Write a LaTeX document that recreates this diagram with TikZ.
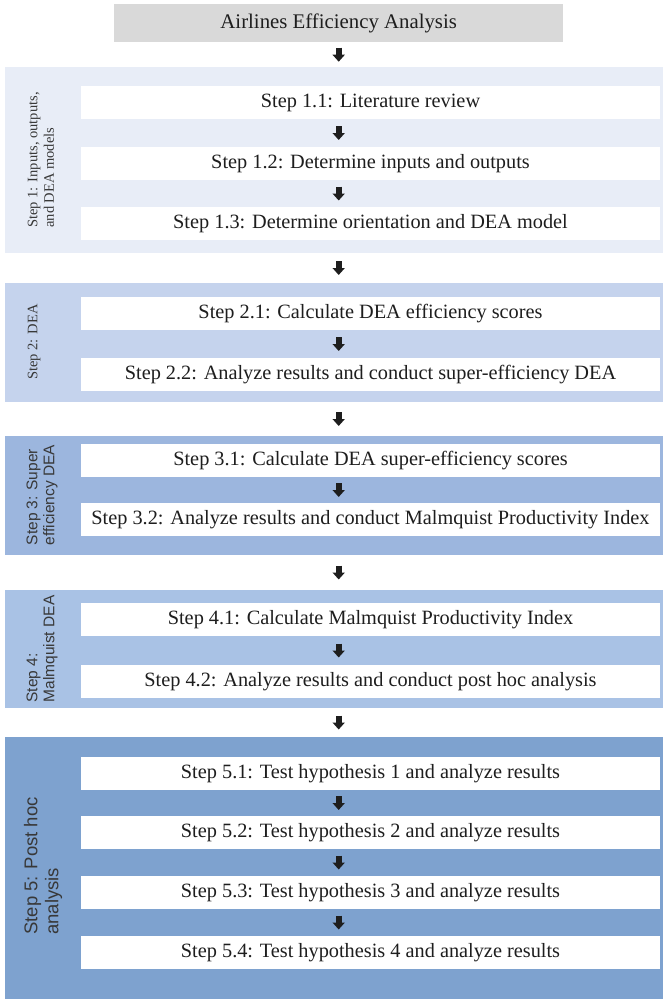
\documentclass[tikz,border=0pt]{standalone}
\usepackage{fontspec}
\setmainfont{Liberation Serif}
\setsansfont{Liberation Sans}
\usetikzlibrary{calc,arrows.meta}
\definecolor{titlegray}{HTML}{D9D9D9}
\definecolor{pone}{HTML}{E8EDF7}
\definecolor{ptwo}{HTML}{C5D3ED}
\definecolor{pthree}{HTML}{9CB6DE}
\definecolor{pfour}{HTML}{A9C2E5}
\definecolor{pfive}{HTML}{7EA2CF}
\definecolor{inktext}{HTML}{1E1E1E}
\newcommand\flowarr[2]{\draw[flowarrow] ($(#1.south -| title.center)!0.5!(#2.north -| title.center)$) ++(0,7pt) -- ++(0,-14pt);}
\begin{document}
\begin{tikzpicture}[x=1pt,y=-1pt,
 panel/.style={anchor=north west, inner sep=0pt, outer sep=0pt, minimum width=658pt},
 stepbox/.style={anchor=north west, fill=white, inner sep=0pt, outer sep=0pt, minimum width=579pt, minimum height=33pt, font=\fontsize{20.3}{24}\selectfont, text=inktext},
 flowarrow/.style={line width=6pt, -{Triangle[width=12pt,length=7pt]}, inktext},
 sidelabel/.style={rotate=90, align=left, text=black!78, inner sep=0pt},
]
\useasboundingbox (0,0) rectangle (663,999);
\fill[white] (0,0) rectangle (663,999);

% title
\node[anchor=north west, fill=titlegray, minimum width=449pt, minimum height=38pt, inner sep=0pt, font=\fontsize{20.8}{24}\selectfont, text=inktext] (title) at (114,4) {Airlines Efficiency Analysis};

% panels
\node[panel, fill=pone, minimum height=186pt] (p1) at (5,67) {};
\node[panel, fill=ptwo, minimum height=119pt] (p2) at (5,283) {};
\node[panel, fill=pthree, minimum height=119pt] (p3) at (5,436) {};
\node[panel, fill=pfour, minimum height=118pt] (p4) at (5,590) {};
\node[panel, fill=pfive, minimum height=262pt] (p5) at (5,737) {};

% side labels
\node[sidelabel, font=\fontsize{14.5}{16.5}\selectfont] (l1) at (41,160) {Step 1: Inputs, outputs,\\and DEA models};
\node[sidelabel, font=\fontsize{14.5}{16.5}\selectfont] (l2) at (34,342) {Step 2: DEA};
\node[sidelabel, font=\sffamily\fontsize{15.5}{17}\selectfont] (l3) at (42,495) {Step 3: Super\\efficiency DEA};
\node[sidelabel, font=\sffamily\fontsize{15.5}{17}\selectfont] (l4) at (42,649) {Step 4:\\Malmquist DEA};
\node[sidelabel, font=\sffamily\fontsize{18.5}{21}\selectfont] (l5) at (43,866) {Step 5: Post hoc\\analysis};

% step boxes
\node[stepbox] (s11) at (81,86) {Step 1.1: Literature review};
\node[stepbox] (s12) at (81,147) {Step 1.2: Determine inputs and outputs};
\node[stepbox] (s13) at (81,207) {Step 1.3: Determine orientation and DEA model};
\node[stepbox] (s21) at (81,297) {Step 2.1: Calculate DEA efficiency scores};
\node[stepbox] (s22) at (81,358) {Step 2.2: Analyze results and conduct super-efficiency DEA};
\node[stepbox] (s31) at (81,444) {Step 3.1: Calculate DEA super-efficiency scores};
\node[stepbox] (s32) at (81,503) {Step 3.2: Analyze results and conduct Malmquist Productivity Index};
\node[stepbox] (s41) at (81,603) {Step 4.1: Calculate Malmquist Productivity Index};
\node[stepbox] (s42) at (81,665) {Step 4.2: Analyze results and conduct post hoc analysis};
\node[stepbox] (s51) at (81,757) {Step 5.1: Test hypothesis 1 and analyze results};
\node[stepbox] (s52) at (81,816) {Step 5.2: Test hypothesis 2 and analyze results};
\node[stepbox] (s53) at (81,876) {Step 5.3: Test hypothesis 3 and analyze results};
\node[stepbox] (s54) at (81,936) {Step 5.4: Test hypothesis 4 and analyze results};

% arrows
\flowarr{title}{p1}
\flowarr{s11}{s12}
\flowarr{s12}{s13}
\flowarr{p1}{p2}
\flowarr{s21}{s22}
\flowarr{p2}{p3}
\flowarr{s31}{s32}
\flowarr{p3}{p4}
\flowarr{s41}{s42}
\flowarr{p4}{p5}
\flowarr{s51}{s52}
\flowarr{s52}{s53}
\flowarr{s53}{s54}
\end{tikzpicture}
\end{document}
